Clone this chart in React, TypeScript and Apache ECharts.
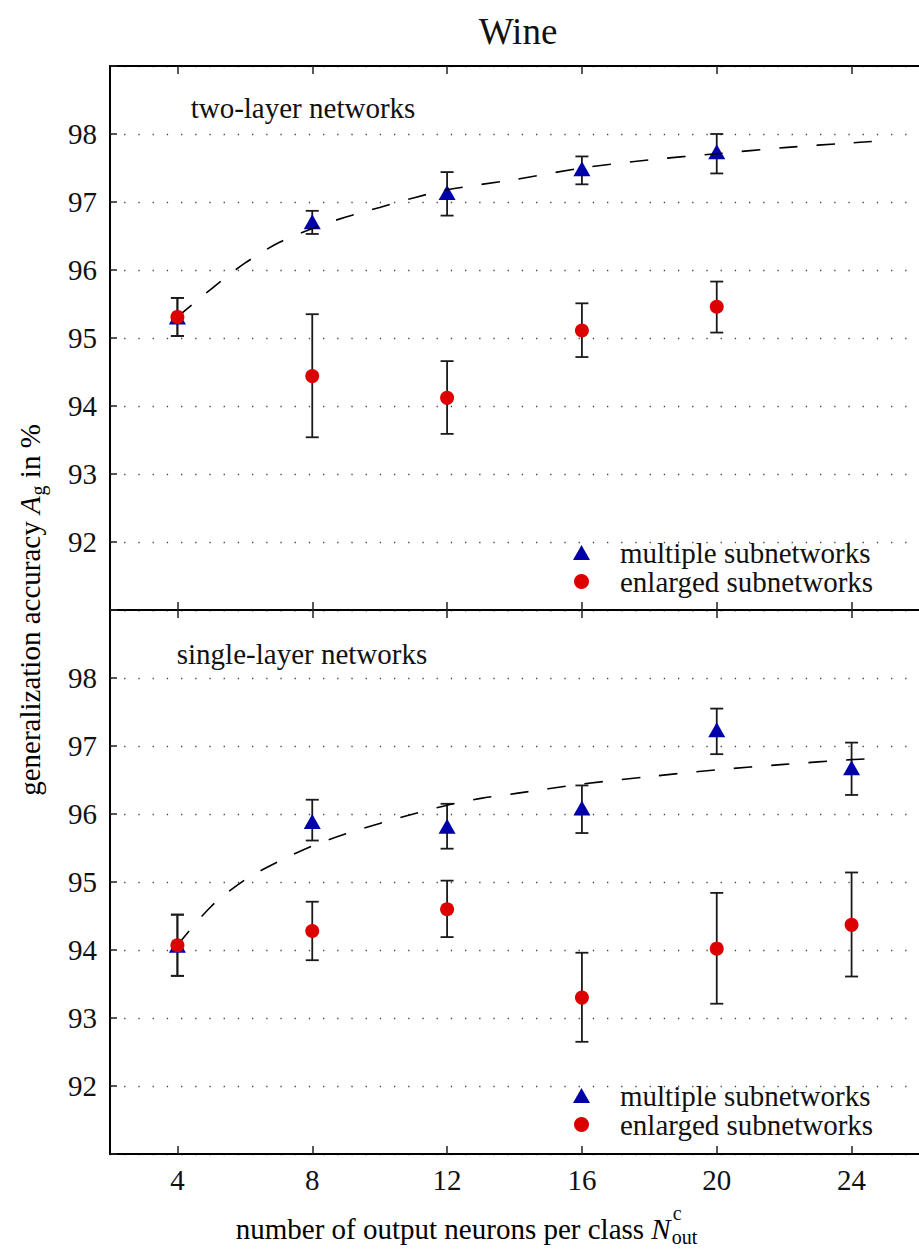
import React, { useEffect, useRef } from "react";
import * as echarts from "echarts";

const FONT = "Liberation Serif";

// ---- data ----
const xTicks = [4, 8, 12, 16, 20, 24];

const topX = [4, 8, 12, 16, 20];
const topMultiple = [95.31, 96.71, 97.14, 97.49, 97.74];
const topMultipleLow = [95.03, 96.53, 96.8, 97.26, 97.42];
const topMultipleHigh = [95.59, 96.87, 97.44, 97.67, 98.0];
const topEnlarged = [95.31, 94.44, 94.12, 95.11, 95.46];
const topEnlargedLow = [95.03, 93.54, 93.59, 94.72, 95.08];
const topEnlargedHigh = [95.59, 95.35, 94.66, 95.51, 95.83];
const topFitX = [4, 5, 6, 7, 8, 9, 10, 11, 12, 14, 16, 18, 20, 22, 24, 24.6];
const topFitY = [95.31, 95.72, 96.1, 96.4, 96.61, 96.78, 96.92, 97.06, 97.18, 97.33, 97.5, 97.62, 97.71, 97.8, 97.87, 97.89];

const botX = [4, 8, 12, 16, 20, 24];
const botMultiple = [94.07, 95.89, 95.82, 96.09, 97.24, 96.68];
const botMultipleLow = [93.62, 95.61, 95.49, 95.72, 96.88, 96.28];
const botMultipleHigh = [94.52, 96.21, 96.15, 96.42, 97.55, 97.05];
const botEnlarged = [94.07, 94.28, 94.6, 93.3, 94.02, 94.37];
const botEnlargedLow = [93.62, 93.85, 94.19, 92.65, 93.21, 93.61];
const botEnlargedHigh = [94.52, 94.71, 95.02, 93.96, 94.84, 95.14];
const botFitX = [4, 5, 6, 7, 8, 9, 10, 11, 12, 13, 14, 16, 18, 20, 22, 24, 24.45];
const botFitY = [94.07, 94.64, 95.03, 95.3, 95.53, 95.71, 95.86, 96.0, 96.13, 96.23, 96.3, 96.44, 96.55, 96.65, 96.73, 96.8, 96.81];

const MULTI = "multiple subnetworks";
const ENL = "enlarged subnetworks";
const BLUE = "#0000AA";
const RED = "#DD0000";

function measure(text: string, font: string): number {
  const c = document.createElement("canvas").getContext("2d");
  if (!c) return text.length * 13;
  c.font = font;
  return c.measureText(text).width;
}

function xAxis(gridIndex: number, position: "top" | "bottom", labels: boolean) {
  return {
    type: "value",
    gridIndex,
    position,
    min: 2,
    max: 26,
    axisLine: { show: true, onZero: false, lineStyle: { color: "#000", width: 2 } },
    axisTick: { show: true, inside: true, length: 8, customValues: xTicks, lineStyle: { color: "#222", width: 1.5 } },
    axisLabel: { show: labels, customValues: xTicks, margin: 11, fontFamily: FONT, fontSize: 29, color: "#111" },
    splitLine: { show: false },
  };
}

function yAxis(gridIndex: number) {
  return {
    type: "value",
    gridIndex,
    min: 91,
    max: 99,
    interval: 1,
    axisLine: { show: true, lineStyle: { color: "#000", width: 2 } },
    axisTick: { show: true, inside: true, length: 7, lineStyle: { color: "#222", width: 1.5 } },
    axisLabel: {
      margin: 13,
      fontFamily: FONT,
      fontSize: 29,
      color: "#111",
      formatter: (v: number) => (v === 91 || v === 99 ? "" : String(v)),
    },
    splitLine: { show: true, lineStyle: { type: [1.3, 12.9], color: "#444", width: 1.3 } },
  };
}

function errorSeries(xAxisIndex: number, yAxisIndex: number, xs: number[], lo: number[], hi: number[]) {
  return {
    type: "custom",
    xAxisIndex,
    yAxisIndex,
    silent: true,
    z: 1,
    encode: { x: 0, y: [1, 2] },
    data: xs.map((x, i) => [x, lo[i], hi[i]]),
    renderItem: (_p: any, api: any) => {
      const x = api.value(0);
      const a = api.coord([x, api.value(1)]);
      const b = api.coord([x, api.value(2)]);
      const w = 6.5;
      const style = { stroke: "#1a1a1a", lineWidth: 1.8 };
      return {
        type: "group",
        children: [
          { type: "line", shape: { x1: a[0], y1: a[1], x2: b[0], y2: b[1] }, style },
          { type: "line", shape: { x1: a[0] - w, y1: a[1], x2: a[0] + w, y2: a[1] }, style },
          { type: "line", shape: { x1: b[0] - w, y1: b[1], x2: b[0] + w, y2: b[1] }, style },
        ],
      };
    },
  };
}

function panelSeries(
  xi: number,
  yi: number,
  xs: number[],
  m: number[], mLo: number[], mHi: number[],
  e: number[], eLo: number[], eHi: number[],
  fx: number[], fy: number[]
) {
  return [
    errorSeries(xi, yi, xs, mLo, mHi),
    errorSeries(xi, yi, xs, eLo, eHi),
    {
      type: "scatter",
      name: MULTI,
      xAxisIndex: xi,
      yAxisIndex: yi,
      symbol: "triangle",
      symbolSize: [17, 15],
      itemStyle: { color: BLUE, opacity: 1 },
      z: 2,
      data: xs.map((x, i) => [x, m[i]]),
    },
    {
      type: "line",
      xAxisIndex: xi,
      yAxisIndex: yi,
      showSymbol: false,
      smooth: 0.3,
      silent: true,
      lineStyle: { color: "#000", width: 1.6, type: [18.5, 19] },
      z: 3,
      data: fx.map((x, i) => [x, fy[i]]),
    },
    {
      type: "scatter",
      name: ENL,
      xAxisIndex: xi,
      yAxisIndex: yi,
      symbol: "circle",
      symbolSize: 14,
      itemStyle: { color: RED, opacity: 1 },
      z: 4,
      data: xs.map((x, i) => [x, e[i]]),
    },
  ];
}

function legend(top: number) {
  return {
    data: [
      { name: MULTI, icon: "triangle", itemStyle: { color: BLUE, opacity: 1 } },
      { name: ENL, icon: "circle", itemStyle: { color: RED, opacity: 1 } },
    ],
    orient: "vertical",
    left: 573,
    top,
    itemWidth: 17,
    itemHeight: 15,
    itemGap: 0,
    padding: 0,
    selectedMode: false,
    textStyle: { fontFamily: FONT, fontSize: 29, color: "#111", lineHeight: 28, padding: [0, 0, 0, 25] },
  };
}

export default function App() {
  const ref = useRef<HTMLDivElement>(null);

  useEffect(() => {
    if (!ref.current) return;
    const chart = echarts.init(ref.current, null, { renderer: "svg" });

    const fs = 29;
    const reg = `${fs}px "${FONT}"`;
    const ita = `italic ${fs}px "${FONT}"`;
    const small = `20px "${FONT}"`;
    const xMain = "number of output neurons per class ";
    const wMain = measure(xMain, reg);
    const wN = measure("N", ita);
    const wOut = measure("out", small);
    const xTotal = wMain + wN + wOut + 2;
    const xStart = 467 - xTotal / 2;

    const rich = {
      n: { fontFamily: FONT, fontSize: fs, color: "#111", lineHeight: 36 },
      i: { fontFamily: FONT, fontSize: fs, fontStyle: "italic", color: "#111", lineHeight: 36 },
      s: { fontFamily: FONT, fontSize: 20, color: "#111", lineHeight: 36, padding: [16, 0, 0, 1] },
    };

    chart.setOption({
      animation: false,
      backgroundColor: "#fff",
      textStyle: { fontFamily: FONT },
      grid: [
        { left: 110, right: -7, top: 66, height: 544 },
        { left: 110, right: -7, top: 610, height: 544 },
      ],
      xAxis: [xAxis(0, "bottom", false), xAxis(0, "top", false), xAxis(1, "top", false), xAxis(1, "bottom", true)],
      yAxis: [yAxis(0), yAxis(1)],
      legend: [legend(538), legend(1081)],
      series: [
        ...panelSeries(0, 0, topX, topMultiple, topMultipleLow, topMultipleHigh, topEnlarged, topEnlargedLow, topEnlargedHigh, topFitX, topFitY),
        ...panelSeries(3, 1, botX, botMultiple, botMultipleLow, botMultipleHigh, botEnlarged, botEnlargedLow, botEnlargedHigh, botFitX, botFitY),
      ],
      graphic: [
        {
          type: "text",
          x: 518,
          y: 31,
          style: { text: "Wine", fontFamily: FONT, fontSize: 37, fill: "#111", align: "center", verticalAlign: "middle" },
        },
        {
          type: "text",
          x: 303,
          y: 108,
          style: { text: "two-layer networks", fontFamily: FONT, fontSize: fs, fill: "#111", align: "center", verticalAlign: "middle" },
        },
        {
          type: "text",
          x: 302,
          y: 654,
          style: { text: "single-layer networks", fontFamily: FONT, fontSize: fs, fill: "#111", align: "center", verticalAlign: "middle" },
        },
        {
          type: "text",
          x: 30,
          y: 610,
          rotation: Math.PI / 2,
          style: {
            text: "{n|generalization accuracy }{i|A}{s|g}{n| in %}",
            rich,
            fontFamily: FONT,
            fontSize: fs,
            align: "center",
            verticalAlign: "middle",
          },
        },
        {
          type: "text",
          x: xStart,
          y: 1229,
          style: {
            text: "{n|" + xMain + "}{i|N}{s|out}",
            rich,
            fontFamily: FONT,
            fontSize: fs,
            align: "left",
            verticalAlign: "middle",
          },
        },
        {
          type: "text",
          x: xStart + wMain + wN + 2,
          y: 1213,
          style: { text: "c", fontFamily: FONT, fontSize: 20, fill: "#111", align: "left", verticalAlign: "middle" },
        },
      ],
    });

    return () => chart.dispose();
  }, []);

  return (
    <div
      ref={ref}
      style={{ position: "absolute", left: 0, top: 0, width: 919, height: 1249, background: "#fff" }}
    />
  );
}
